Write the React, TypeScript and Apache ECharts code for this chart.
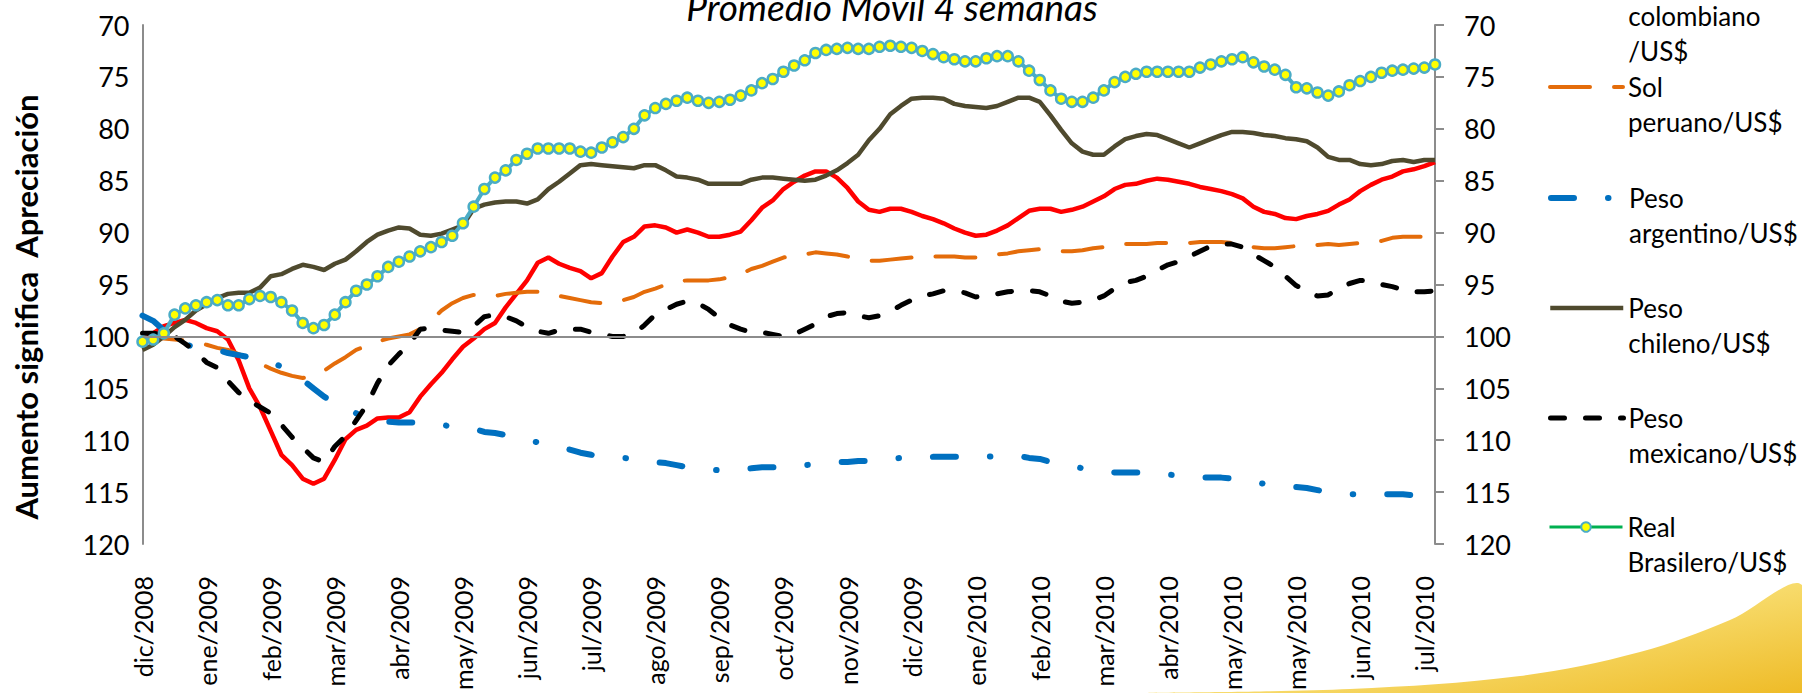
import React, { useEffect, useRef } from "react";
import * as echarts from "echarts";

const monthLabels = [
  "dic/2008", "ene/2009", "feb/2009", "mar/2009", "abr/2009", "may/2009", "jun/2009",
  "jul/2009", "ago/2009", "sep/2009", "oct/2009", "nov/2009", "dic/2009", "ene/2010",
  "feb/2010", "mar/2010", "abr/2010", "may/2010", "may/2010", "jun/2010", "jul/2010",
];
const pointsPerLabel = 6;
const yTicks = { min: 70, max: 120, step: 5 };

const colombiano = [
  100.5, 99.7, 99.0, 98.7, 98.4, 98.7, 99.2, 99.5, 100.3, 102.3, 105.0, 106.8, 109.1, 111.4, 112.4, 113.7, 114.2, 113.7, 111.9, 109.9, 109.0, 108.6, 107.9, 107.8, 107.8, 107.3, 105.8, 104.6, 103.5, 102.2, 101.0,
  100.2, 99.3, 98.7, 97.2, 95.9, 94.6, 92.9, 92.4, 93.0, 93.4, 93.7, 94.4, 93.9, 92.3, 90.9, 90.4, 89.4, 89.3, 89.5, 90.0, 89.7, 90.0, 90.4, 90.4, 90.2, 89.9, 88.8, 87.6, 86.9, 85.8, 85.1,
  84.5, 84.1, 84.1, 84.7, 85.7, 87.0, 87.8, 88.0, 87.7, 87.7, 88.0, 88.4, 88.7, 89.1, 89.6, 90.0, 90.3, 90.2, 89.8, 89.3, 88.6, 87.9, 87.7, 87.7, 88.0, 87.8, 87.5, 87.0, 86.5, 85.8, 85.4,
  85.3, 85.0, 84.8, 84.9, 85.1, 85.3, 85.6, 85.8, 86.0, 86.3, 86.7, 87.5, 88.0, 88.2, 88.6, 88.7, 88.4, 88.2, 87.9, 87.3, 86.8, 86.0, 85.4, 84.9, 84.6, 84.1, 83.9, 83.6, 83.2,
];

const solPeruano = [
  100.2, 100.1, 100.2, 100.3, 100.4, 100.6, 100.8, 101.1, 101.3, 101.7, 102.1, 102.6, 103.1, 103.5, 103.8, 104.0, 103.8, 103.3, 102.6, 102.0, 101.3, 100.9, 100.5, 100.2, 100.0, 99.8, 99.3, 98.5, 97.5, 96.8, 96.3,
  96.0, 96.0, 96.1, 95.9, 95.8, 95.7, 95.7, 95.8, 96.1, 96.3, 96.5, 96.7, 96.8, 96.7, 96.5, 96.2, 95.7, 95.4, 95.0, 94.7, 94.6, 94.6, 94.6, 94.5, 94.3, 94.0, 93.5, 93.2, 92.8, 92.4, 92.2,
  92.1, 91.9, 92.0, 92.1, 92.3, 92.5, 92.7, 92.7, 92.6, 92.5, 92.4, 92.3, 92.3, 92.3, 92.3, 92.4, 92.4, 92.3, 92.1, 92.0, 91.8, 91.7, 91.6, 91.7, 91.8, 91.8, 91.7, 91.5, 91.4, 91.3, 91.1,
  91.1, 91.1, 91.0, 91.0, 91.0, 91.0, 90.9, 90.9, 90.9, 91.0, 91.2, 91.4, 91.5, 91.5, 91.4, 91.3, 91.3, 91.2, 91.1, 91.2, 91.1, 91.0, 90.9, 90.8, 90.5, 90.4, 90.4, 90.4, 90.4,
];

const argentino = [
  98.0, 98.5, 99.4, 100.5, 100.8, 101.0, 101.2, 101.3, 101.6, 101.8, 102.0, 102.3, 102.5, 102.9, 103.5, 104.2, 105.0, 105.8, 106.4, 106.9, 107.4, 107.8, 108.0, 108.2, 108.3, 108.3, 108.3, 108.3, 108.5, 108.7, 108.8,
  108.9, 109.2, 109.3, 109.5, 109.7, 110.0, 110.2, 110.4, 110.7, 110.9, 111.2, 111.4, 111.6, 111.7, 111.7, 111.8, 112.0, 112.1, 112.2, 112.4, 112.6, 112.7, 112.8, 112.9, 112.9, 112.8, 112.7, 112.6, 112.6, 112.5, 112.4,
  112.4, 112.3, 112.2, 112.1, 112.1, 112.0, 112.0, 111.9, 111.8, 111.7, 111.7, 111.7, 111.6, 111.6, 111.6, 111.6, 111.6, 111.6, 111.5, 111.5, 111.5, 111.7, 111.8, 112.1, 112.3, 112.5, 112.7, 112.9, 113.0, 113.1, 113.1,
  113.1, 113.1, 113.2, 113.3, 113.4, 113.5, 113.6, 113.6, 113.6, 113.7, 113.9, 114.0, 114.2, 114.2, 114.4, 114.5, 114.6, 114.8, 115.0, 115.1, 115.2, 115.2, 115.2, 115.2, 115.2, 115.2, 115.3, 115.3, 115.3,
];

const chileno = [
  101.3, 100.8, 100.0, 99.1, 98.4, 97.5, 96.9, 96.3, 95.9, 95.8, 95.8, 95.3, 94.2, 94.0, 93.5, 93.1, 93.3, 93.6, 93.0, 92.6, 91.8, 90.9, 90.2, 89.8, 89.5, 89.6, 90.2, 90.3, 90.1, 89.7, 89.3,
  87.7, 87.3, 87.1, 87.0, 87.0, 87.2, 86.8, 85.8, 85.1, 84.3, 83.5, 83.4, 83.5, 83.6, 83.7, 83.8, 83.5, 83.5, 84.0, 84.6, 84.7, 84.9, 85.3, 85.3, 85.3, 85.3, 84.9, 84.7, 84.7, 84.8, 84.9,
  85.0, 84.9, 84.5, 84.0, 83.3, 82.5, 81.1, 80.0, 78.6, 77.8, 77.1, 77.0, 77.0, 77.1, 77.6, 77.8, 77.9, 78.0, 77.8, 77.4, 77.0, 77.0, 77.4, 78.7, 80.1, 81.4, 82.2, 82.5, 82.5, 81.7, 81.0,
  80.7, 80.5, 80.6, 81.0, 81.4, 81.8, 81.4, 81.0, 80.6, 80.3, 80.3, 80.4, 80.6, 80.7, 80.9, 81.0, 81.2, 81.8, 82.7, 83.0, 83.0, 83.4, 83.5, 83.4, 83.1, 83.0, 83.2, 83.0, 83.0,
];

const mexicano = [
  99.7, 99.7, 99.8, 100.0, 100.7, 101.5, 102.5, 103.0, 104.3, 105.4, 106.2, 106.8, 107.4, 108.5, 109.7, 110.7, 111.7, 112.1, 110.6, 109.6, 108.1, 106.6, 104.5, 102.8, 101.7, 100.7, 99.3, 99.2, 99.4, 99.5, 99.6,
  99.0, 98.1, 97.9, 98.1, 98.5, 99.1, 99.5, 99.7, 99.4, 99.3, 99.3, 99.6, 99.8, 100.0, 100.0, 99.8, 98.9, 97.9, 97.4, 96.9, 96.6, 96.8, 97.4, 98.2, 98.9, 99.3, 99.6, 99.6, 99.8, 100.0, 99.8,
  99.3, 98.8, 98.1, 97.8, 97.7, 98.0, 98.2, 98.0, 97.6, 97.0, 96.5, 96.1, 95.9, 95.6, 95.6, 95.8, 96.2, 96.1, 95.9, 95.7, 95.6, 95.6, 95.7, 96.1, 96.6, 96.8, 96.7, 96.5, 96.1, 95.4, 94.8,
  94.6, 94.2, 93.6, 93.1, 92.8, 92.3, 91.8, 91.3, 91.1, 91.1, 91.4, 92.1, 92.7, 93.3, 94.2, 95.1, 95.6, 96.1, 96.0, 95.4, 94.9, 94.6, 94.7, 95.0, 95.2, 95.5, 95.7, 95.7, 95.6,
];

const realBrasilero = [
  100.5, 100.3, 99.7, 97.9, 97.3, 97.0, 96.7, 96.5, 97.0, 97.0, 96.4, 96.1, 96.2, 96.7, 97.5, 98.7, 99.2, 98.9, 97.9, 96.7, 95.6, 95.0, 94.2, 93.3, 92.8, 92.3, 91.8, 91.4, 90.9, 90.3, 89.1,
  87.5, 85.8, 84.7, 84.0, 83.0, 82.4, 81.9, 81.9, 81.9, 81.9, 82.2, 82.3, 81.8, 81.3, 80.8, 80.0, 78.7, 78.0, 77.6, 77.3, 77.0, 77.3, 77.5, 77.4, 77.2, 76.8, 76.3, 75.6, 75.2, 74.5, 73.9,
  73.4, 72.7, 72.4, 72.3, 72.2, 72.3, 72.3, 72.1, 72.0, 72.1, 72.2, 72.5, 72.8, 73.1, 73.3, 73.5, 73.5, 73.2, 73.0, 73.0, 73.5, 74.4, 75.3, 76.3, 77.1, 77.4, 77.4, 77.0, 76.3, 75.5, 75.0,
  74.7, 74.5, 74.5, 74.5, 74.5, 74.5, 74.1, 73.8, 73.5, 73.3, 73.1, 73.6, 74.0, 74.3, 74.8, 76.0, 76.1, 76.5, 76.8, 76.4, 75.8, 75.4, 75.0, 74.6, 74.4, 74.3, 74.2, 74.1, 73.8,
];

const seriesNames = [
  "Peso colombiano/US$",
  "Sol peruano/US$",
  "Peso argentino/US$",
  "Peso chileno/US$",
  "Peso mexicano/US$",
  "Real Brasilero/US$",
];
const legendLabels = [
  "Peso\ncolombiano\n/US$",
  "Sol\nperuano/US$",
  "Peso\nargentino/US$",
  "Peso\nchileno/US$",
  "Peso\nmexicano/US$",
  "Real\nBrasilero/US$",
];
const legendFirstLineY = [-19, 87, 198, 308, 418, 527];
const seriesColors = ["#FF0000", "#E46C0A", "#0070C0", "#4F4A2E", "#000000", "#4BACC6"];
const seriesWidths = [4.5, 4, 6, 4.5, 5, 4];

const FONT = "Lato, 'Open Sans', sans-serif";

export default function App() {
  const ref = useRef<HTMLDivElement>(null);

  useEffect(() => {
    if (!ref.current) return;
    const chart = echarts.init(ref.current, null, { renderer: "svg" });

    const categories = colombiano.map(
      (_, i) => `${monthLabels[Math.floor(i / pointsPerLabel)]}|${i}`
    );

    const LH = 35;
    const ITEM_H = 12;
    const legends = seriesNames.map((name, k) => {
      const lines = legendLabels[k].split("\n").length;
      const H = LH * (2 * lines - 1);
      const isReal = k === 5;
      // blank lines above so that the first text line sits level with the icon
      const label = "\n".repeat(lines - 1) + legendLabels[k];
      return {
        show: true,
        orient: "vertical",
        left: 1548,
        top: legendFirstLineY[k] - H / 2,
        padding: 0,
        itemGap: 0,
        itemWidth: 73,
        itemHeight: ITEM_H,
        selectedMode: false,
        formatter: () => label,
        lineStyle: isReal
          ? { color: "#00B050", width: 3 }
          : { color: seriesColors[k], width: seriesWidths[k] },
        data: [
          isReal
            ? { name }
            : {
                name,
                itemStyle: { color: "rgba(0,0,0,0)", borderColor: "rgba(0,0,0,0)", borderWidth: 0 },
              },
        ],
        textStyle: {
          fontFamily: FONT,
          fontSize: 26,
          color: "#000",
          lineHeight: LH,
        },
      };
    });

    const axisGray = "#8c8c8c";

    const option: any = {
      animation: false,
      backgroundColor: "#ffffff",
      textStyle: { fontFamily: FONT },
      grid: { left: 142.5, right: 1802 - 1435, top: 25, bottom: 693 - 548, containLabel: false },
      legend: legends,
      xAxis: {
        type: "category",
        data: categories,
        boundaryGap: false,
        axisLine: { show: false },
        axisTick: { show: false },
        splitLine: { show: false },
        axisLabel: {
          interval: pointsPerLabel - 1,
          rotate: 90,
          margin: 32,
          fontSize: 25,
          fontFamily: FONT,
          color: "#000",
          formatter: (v: string) => v.split("|")[0],
        },
      },
      yAxis: [
        {
          type: "value",
          inverse: true,
          min: yTicks.min,
          max: yTicks.max,
          interval: yTicks.step,
          position: "left",
          axisLine: { show: true, lineStyle: { color: axisGray, width: 2 } },
          axisTick: { show: false },
          splitLine: { show: false },
          axisLabel: { margin: 13, fontSize: 27, color: "#000", fontFamily: FONT },
        },
        {
          type: "value",
          inverse: true,
          min: yTicks.min,
          max: yTicks.max,
          interval: yTicks.step,
          position: "right",
          axisLine: { show: true, lineStyle: { color: axisGray, width: 2 } },
          axisTick: { show: true, length: 9, lineStyle: { color: axisGray, width: 2 } },
          splitLine: { show: false },
          axisLabel: { margin: 29, fontSize: 27, color: "#000", fontFamily: FONT },
        },
      ],
      graphic: [
        {
          type: "polygon",
          silent: true,
          z: -10,
          shape: {
            points: [
              [1150, 693], [1350, 689], [1520, 676], [1640, 652], [1730, 620], [1802, 585], [1802, 693],
            ],
            smooth: 0.35,
          },
          style: {
            fill: new echarts.graphic.LinearGradient(0, 0, 1, 1, [
              { offset: 0, color: "rgba(255,245,200,0.5)" },
              { offset: 0.45, color: "#F8DE72" },
              { offset: 1, color: "#EDB61C" },
            ]),
          },
        },
        {
          type: "text",
          silent: true,
          x: 892,
          y: 25,
          style: {
            text: "Promedio Móvil 4 semanas",
            fontFamily: FONT,
            fontSize: 37,
            fontStyle: "italic",
            fill: "#000",
            align: "center",
            verticalAlign: "bottom",
          },
        },
        {
          type: "text",
          silent: true,
          x: 26,
          y: 307,
          rotation: Math.PI / 2,
          style: {
            text: "Aumento significa  Apreciación",
            fontFamily: FONT,
            fontSize: 31,
            fontWeight: "bold",
            fill: "#000",
            align: "center",
            verticalAlign: "middle",
          },
        },
      ],
      series: [
        {
          name: seriesNames[0],
          type: "line",
          data: colombiano,
          symbol: "none",
          lineStyle: { color: seriesColors[0], width: seriesWidths[0] },
          itemStyle: { color: seriesColors[0] },
          markLine: {
            silent: true,
            symbol: ["none", "none"],
            label: { show: false },
            lineStyle: { color: axisGray, width: 2, type: "solid" },
            data: [{ yAxis: 100 }],
          },
        },
        {
          name: seriesNames[1],
          type: "line",
          data: solPeruano,
          symbol: "none",
          lineStyle: { color: seriesColors[1], width: seriesWidths[1], type: [40, 24], cap: "round" },
          itemStyle: { color: seriesColors[1] },
        },
        {
          name: seriesNames[2],
          type: "line",
          data: argentino,
          symbol: "none",
          lineStyle: { color: seriesColors[2], width: seriesWidths[2], type: [23, 34, 0.5, 34], cap: "round" },
          itemStyle: { color: seriesColors[2] },
        },
        {
          name: seriesNames[3],
          type: "line",
          data: chileno,
          symbol: "none",
          lineStyle: { color: seriesColors[3], width: seriesWidths[3] },
          itemStyle: { color: seriesColors[3] },
        },
        {
          name: seriesNames[4],
          type: "line",
          data: mexicano,
          symbol: "none",
          lineStyle: { color: seriesColors[4], width: seriesWidths[4], type: [14, 21], cap: "round" },
          itemStyle: { color: seriesColors[4] },
        },
        {
          name: seriesNames[5],
          type: "line",
          data: realBrasilero,
          symbol: "circle",
          symbolSize: 10,
          showSymbol: true,
          showAllSymbol: true,
          lineStyle: { color: seriesColors[5], width: seriesWidths[5] },
          itemStyle: { color: "#FFFF00", borderColor: "#4BACC6", borderWidth: 2.5 },
        },
      ],
    };

    chart.setOption(option);
    return () => chart.dispose();
  }, []);

  return (
    <div
      ref={ref}
      style={{ position: "fixed", left: 0, top: 0, width: 1802, height: 693, background: "#fff" }}
    />
  );
}
